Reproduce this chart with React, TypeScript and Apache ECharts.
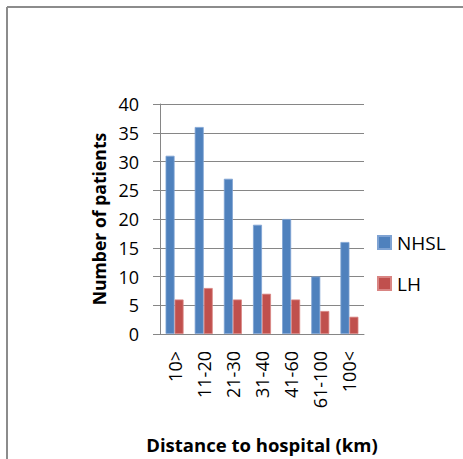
import React, { useEffect, useRef } from "react";
import * as echarts from "echarts";

const categories = ["10>", "11-20", "21-30", "31-40", "41-60", "61-100", "100<"];
const nhsl = [31, 36, 27, 19, 20, 10, 16];
const lh = [6, 8, 6, 7, 6, 4, 3];
const yTicks = { min: 0, max: 40, interval: 5 };

const FONT = "Open Sans";

export default function App() {
  const ref = useRef<HTMLDivElement>(null);
  useEffect(() => {
    if (!ref.current) return;
    const chart = echarts.init(ref.current, undefined, { renderer: "svg" });
    chart.setOption({
      animation: false,
      backgroundColor: "#ffffff",
      textStyle: { fontFamily: FONT, color: "#000" },
      grid: { left: 160, width: 204, top: 104, height: 232, containLabel: false },
      legend: {
        orient: "vertical",
        left: 377,
        top: 233,
        padding: 0,
        itemWidth: 13,
        itemHeight: 13,
        itemGap: 22,
        icon: "rect",
        textStyle: { fontFamily: FONT, fontSize: 19, color: "#000", padding: [0, 0, 0, 1] },
        data: ["NHSL", "LH"],
      },
      xAxis: {
        type: "category",
        data: categories,
        axisLine: { lineStyle: { color: "#868686", width: 1 } },
        axisTick: { show: false },
        axisLabel: { rotate: 90, margin: 17, fontSize: 18, fontFamily: FONT, color: "#000", interval: 0 },
        name: "Distance to hospital (km)",
        nameLocation: "middle",
        nameGap: 101,
        nameTextStyle: { fontFamily: FONT, fontSize: 18.5, fontWeight: "bold", color: "#000" },
      },
      yAxis: {
        type: "value",
        min: yTicks.min,
        max: yTicks.max,
        interval: yTicks.interval,
        axisLine: { show: true, lineStyle: { color: "#868686", width: 1 } },
        axisTick: { show: true, length: 7, lineStyle: { color: "#868686" } },
        axisLabel: { margin: 21, fontSize: 18, fontFamily: FONT, color: "#000" },
        splitLine: { show: true, lineStyle: { color: "#868686", width: 1 } },
        name: "Number of patients",
        nameLocation: "middle",
        nameGap: 52,
        nameRotate: 90,
        nameTextStyle: { fontFamily: FONT, fontSize: 17.6, fontWeight: "bold", color: "#000" },
      },
      series: [
        {
          name: "NHSL",
          type: "bar",
          data: nhsl,
          barWidth: 9,
          barGap: "0%",
          itemStyle: { color: "#4F81BD", borderColor: "#7FA3D3", borderWidth: 0.8 },
        },
        {
          name: "LH",
          type: "bar",
          data: lh,
          barWidth: 9,
          barGap: "0%",
          itemStyle: { color: "#C0504D", borderColor: "#D98583", borderWidth: 0.8 },
        },
      ],
      graphic: [
        { type: "line", shape: { x1: 7, y1: 7, x2: 463, y2: 7 }, style: { stroke: "#8c8c8c", lineWidth: 2 } },
        { type: "line", shape: { x1: 7, y1: 7, x2: 7, y2: 459 }, style: { stroke: "#8c8c8c", lineWidth: 2 } },
      ],
    });
    return () => chart.dispose();
  }, []);
  return (
    <div
      ref={ref}
      style={{ position: "fixed", left: 0, top: 0, width: 463, height: 459 }}
    />
  );
}
